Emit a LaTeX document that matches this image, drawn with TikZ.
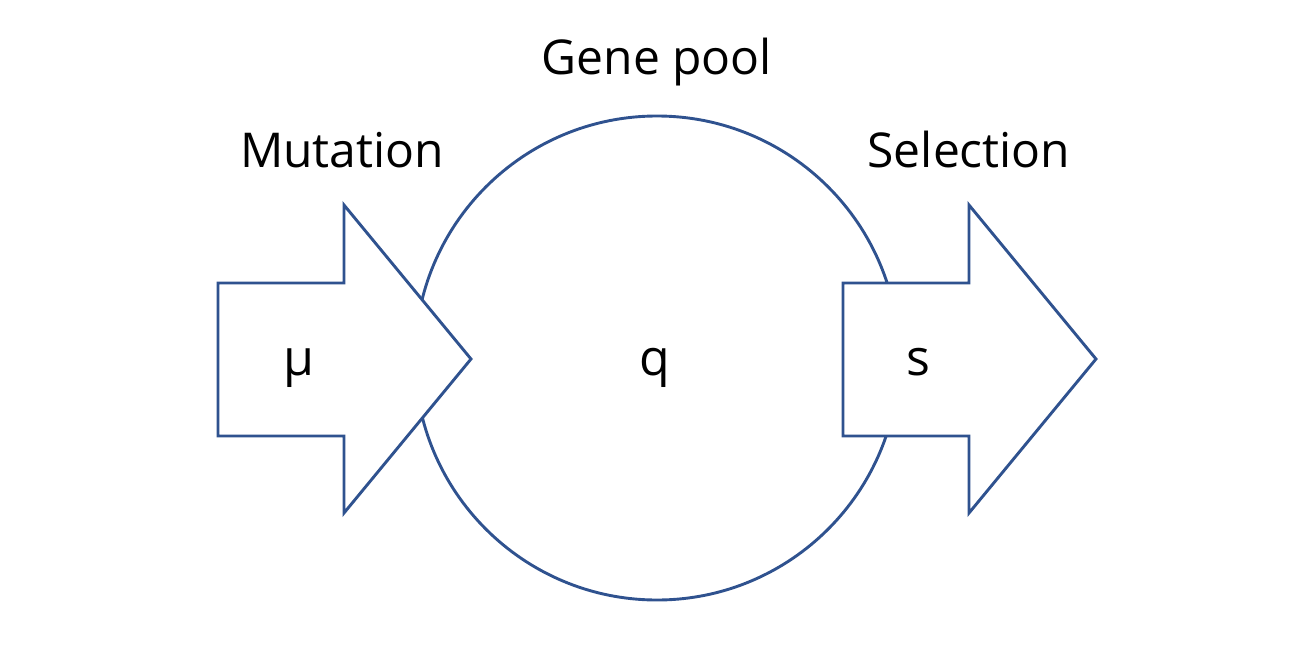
\documentclass[tikz,border=0pt]{standalone}
\usepackage{fontspec}
\setmainfont{Open Sans}
\usepackage{tikz}
\usetikzlibrary{positioning,calc}
\definecolor{poolblue}{RGB}{47,82,143}
\tikzset{
  pool/.style={circle, draw=poolblue, line width=2.9pt, minimum size=484pt, inner sep=0pt},
  flowarrow/.style={draw=poolblue, line width=2.9pt, fill=white, line join=miter},
  head/.style={font=\fontsize{48}{56}\selectfont, anchor=base, inner sep=0pt},
  sym/.style={font=\fontsize{50}{60}\selectfont, anchor=base, inner sep=0pt},
}
\begin{document}
\begin{tikzpicture}[x=1pt,y=-1pt]
\useasboundingbox (0,0) rectangle (1304,659);
% the gene pool sits underneath, the two arrows cover its rim
\node[pool] (gp) at (657,358) {};
\draw[flowarrow] (218,283) -- (344,283) -- (344,205) -- (471,359) -- (344,513) -- (344,436) -- (218,436) -- cycle;
\draw[flowarrow] (843,283) -- (969,283) -- (969,205) -- (1096,359) -- (969,513) -- (969,436) -- (843,436) -- cycle;
\node[head] (title) at (657,74) {Gene pool};
\node[head] (mut) at (342,167) {Mutation};
\node[head] (sel) at (969,167) {Selection};
\node[sym] (mu) at (299,375) {μ};
\node[sym] (q) at (655,375) {q};
\node[sym] (s) at (918,375) {s};
\end{tikzpicture}
\end{document}
